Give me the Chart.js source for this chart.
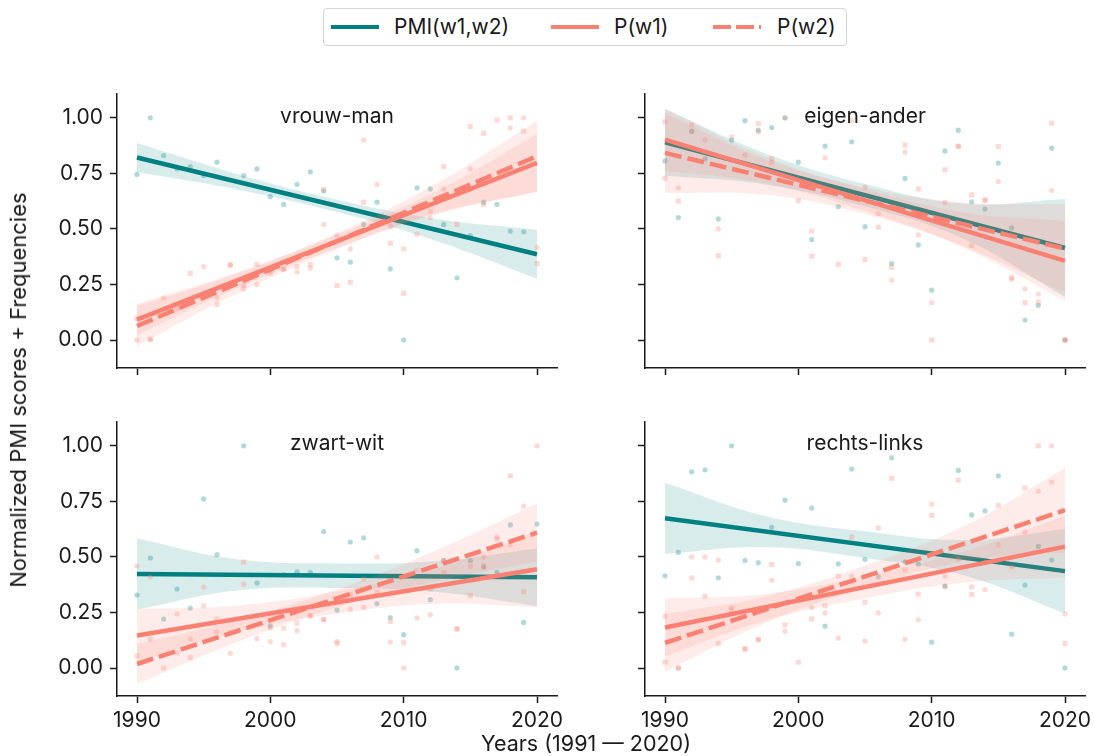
<!DOCTYPE html>
<html>
<head>
<meta charset="utf-8">
<script src="https://cdn.jsdelivr.net/npm/chart.js@4.4.1/dist/chart.umd.min.js"></script>
<style>
  body { margin: 0; width: 1094px; height: 756px; background: #fff; position: relative; overflow: hidden;
         font-family: Inter, "Liberation Sans", sans-serif; color: #1a1a1a; }
  canvas { position: absolute; }
  .ttl { position: absolute; font-size: 21px; line-height: 1; transform: translateX(-50%); white-space: nowrap; }
  .lab { position: absolute; line-height: 1; white-space: nowrap; }
  #legend { position: absolute; left: 323px; top: 8px; width: 522px; height: 36px; border: 1px solid #d4d4d4; border-radius: 4px; }
  #legend .sw { position: absolute; top: 16px; width: 48px; height: 4px; }
  #legend .tx { position: absolute; top: 7px; font-size: 21px; line-height: 1; white-space: nowrap; }
</style>
</head>
<body>
<div id="legend">
  <div class="sw" style="left:7px;background:#008080"></div><div class="tx" style="left:70px">PMI(w1,w2)</div>
  <div class="sw" style="left:227px;background:#fa8072"></div><div class="tx" style="left:290px">P(w1)</div>
  <div class="sw" style="left:389px;background:repeating-linear-gradient(to right,#fa8072 0 18px,transparent 18px 23px)"></div><div class="tx" style="left:453px">P(w2)</div>
</div>
<canvas id="c0"></canvas><canvas id="c1"></canvas><canvas id="c2"></canvas><canvas id="c3"></canvas>
<div class="ttl" style="left:337px;top:105px">vrouw-man</div>
<div class="ttl" style="left:865px;top:105px">eigen-ander</div>
<div class="ttl" style="left:337px;top:432px">zwart-wit</div>
<div class="ttl" style="left:865px;top:432px">rechts-links</div>
<div class="lab" style="left:586px;top:733px;font-size:21.5px;transform:translateX(-50%)">Years (1991 — 2020)</div>
<div class="lab" style="left:18px;top:390px;font-size:22px;transform:translate(-50%,-50%) rotate(-90deg)">Normalized PMI scores + Frequencies</div>
<script>
const years = [1990, 1991, 1992, 1993, 1994, 1995, 1996, 1997, 1998, 1999, 2000, 2001, 2002, 2003, 2004, 2005,
               2006, 2007, 2008, 2009, 2010, 2011, 2012, 2013, 2014, 2015, 2016, 2017, 2018, 2019, 2020];
const xTicks = [1990, 2000, 2010, 2020];
const yTicks = [0, 0.25, 0.5, 0.75, 1];
const bandYears = [1990, 1997.5, 2005, 2012.5, 2020];
const seriesNames = ['PMI(w1,w2)', 'P(w1)', 'P(w2)'];

// vrouw-man
const vrouwManPmi = [0.745, 1.00, 0.83, 0.77, 0.78, 0.74, 0.80, null, 0.74, 0.77, 0.645, 0.61, 0.70, 0.757, 0.67, 0.37,
                     0.35, 0.52, 0.62, 0.32, 0.00, 0.685, 0.68, 0.52, 0.28, 0.47, 0.62, 0.61, 0.49, 0.487, null];
const vrouwManW1 = [0.00, 0.00, 0.19, 0.14, null, 0.33, 0.19, 0.336, 0.246, 0.25, 0.31, 0.317, 0.306, 0.324, 0.52, 0.47,
                    0.41, 0.90, 0.70, 0.51, 0.41, 0.476, 0.55, 0.68, null, 0.77, 0.61, null, 0.955, 1.00, 0.417];
const vrouwManW2 = [0.096, 0.005, null, null, 0.30, 0.19, 0.16, 0.34, 0.23, 0.34, 0.30, 0.32, 0.33, 0.34, 0.677, 0.245,
                    0.26, 0.62, 0.52, 0.435, 0.21, 0.59, 0.58, 0.78, 0.52, 0.96, 0.93, 0.99, 1.00, 0.94, 0.344];
const vrouwManFit = [[0.821, 0.386], [0.092, 0.797], [0.063, 0.827]];
const vrouwManBand = [[0.065, 0.035, 0.028, 0.05, 0.11], [0.07, 0.035, 0.03, 0.05, 0.13], [0.09, 0.045, 0.035, 0.07, 0.16]];

// eigen-ander
const eigenAnderPmi = [0.806, 0.551, 0.94, 0.815, 0.545, 0.90, 0.987, 0.944, 0.956, 1.00, 0.80, 0.452, 0.872, 0.60, 0.892, 0.51,
                       null, 0.344, 0.727, 0.428, 0.224, 0.851, 0.944, 0.622, 0.589, 0.796, 0.505, 0.09, 0.156, 0.863, 0.00];
const eigenAnderW1 = [0.728, 0.685, 0.937, 0.90, 0.50, 0.914, 0.833, 0.937, 0.817, 1.00, null, 0.49, 0.82, null, null, 0.688,
                      0.569, 0.269, 0.845, 0.473, 0.168, 0.619, 0.871, 0.425, 0.63, 0.713, 0.273, 0.23, 0.207, 0.673, 0.00];
const eigenAnderW2 = [0.982, 0.625, 0.968, null, 0.38, null, null, 0.974, 0.80, null, 0.627, 0.377, null, 0.34, 0.987, 0.362,
                      0.507, 0.327, 0.878, 0.68, 0.00, 0.766, 0.872, 0.653, 0.629, 0.871, 0.282, 0.167, 0.171, 0.976, 0.00];
const eigenAnderFit = [[0.889, 0.414], [0.902, 0.356], [0.842, 0.411]];
const eigenAnderBand = [[0.15, 0.07, 0.05, 0.08, 0.22], [0.14, 0.06, 0.05, 0.08, 0.18], [0.18, 0.08, 0.06, 0.1, 0.2]];

// zwart-wit
const zwartWitPmi = [0.328, 0.495, 0.22, 0.355, 0.27, 0.761, 0.51, null, 1.00, 0.383, 0.19, 0.42, 0.433, 0.43, 0.614, 0.26,
                     0.567, 0.586, 0.29, 0.227, 0.15, 0.528, 0.308, 0.483, 0.00, 0.484, 0.454, 0.43, 0.644, 0.205, 0.648];
const zwartWitW1 = [0.459, 0.41, null, 0.244, 0.13, 0.365, 0.162, 0.066, 0.377, 0.132, 0.119, 0.105, 0.168, 0.235, 0.218, 0.119,
                    0.265, 0.272, 0.50, 0.117, 0.00, 0.226, 0.24, 0.43, 0.176, 0.457, 0.50, 0.59, 0.555, 0.728, 1.00];
const zwartWitW2 = [0.054, 0.13, 0.00, 0.068, 0.047, 0.28, 0.22, 0.16, 0.477, 0.236, 0.182, 0.179, 0.203, 0.235, 0.217, 0.11,
                    0.33, 0.40, 0.34, 0.209, 0.114, 0.44, 0.356, 0.483, 0.176, 0.326, 0.459, 0.58, 0.865, 0.343, null];
const zwartWitFit = [[0.423, 0.408], [0.146, 0.444], [0.018, 0.609]];
const zwartWitBand = [[0.16, 0.07, 0.055, 0.07, 0.13], [0.12, 0.06, 0.05, 0.08, 0.17], [0.09, 0.05, 0.04, 0.07, 0.13]];

// rechts-links
const rechtsLinksPmi = [0.415, 0.52, 0.883, 0.892, 0.406, 1.00, 0.484, 0.474, 0.633, 0.755, 0.47, 0.72, 0.188, 0.469, 0.895, 0.489,
                        0.41, 0.946, 0.478, 0.468, 0.116, 0.368, 0.889, 0.689, 0.707, 0.865, 0.152, 0.373, 0.547, 0.486, 0.00];
const rechtsLinksW1 = [0.233, 0.00, 0.50, 0.50, 0.486, 0.272, 0.086, 0.128, 0.395, 0.165, null, 0.272, 0.248, 0.134, 0.414, 0.122,
                       0.248, null, 0.129, 0.217, 0.737, 0.414, 0.492, 0.365, 0.353, 0.553, 0.454, 0.612, 0.795, 1.00, 0.244];
const rechtsLinksW2 = [0.026, 0.00, 0.405, 0.323, 0.11, 0.262, 0.086, 0.128, 0.466, 0.194, 0.026, 0.221, 0.28, 0.414, 0.589, 0.296,
                       0.63, 0.854, 0.442, 0.332, 0.687, 0.368, 0.845, 0.331, 0.474, 0.732, null, 0.81, 1.00, 0.836, 0.11];
const rechtsLinksFit = [[0.674, 0.436], [0.182, 0.546], [0.113, 0.71]];
const rechtsLinksBand = [[0.16, 0.07, 0.06, 0.08, 0.19], [0.13, 0.06, 0.05, 0.07, 0.14], [0.13, 0.06, 0.05, 0.08, 0.19]];

const rgb = ['0,128,128', '250,128,114', '250,128,114'];
const ink = '#1a1a1a';

Chart.defaults.font.family = 'Inter, "Liberation Sans", sans-serif';
Chart.defaults.color = ink;

function buildDatasets(series, fit, band) {
  const ds = [];
  series.forEach((vals, k) => {
    const a = fit[k][0], b = fit[k][1];
    const lineAt = x => a + (b - a) * (x - 1990) / 30;
    const edge = { type: 'line', borderWidth: 0, pointRadius: 0, tension: 0.4, label: seriesNames[k] };
    ds.push(Object.assign({}, edge, { data: bandYears.map((x, i) => ({ x, y: lineAt(x) + band[k][i] })),
      fill: '+1', backgroundColor: 'rgba(' + rgb[k] + ',0.15)' }));
    ds.push(Object.assign({}, edge, { data: bandYears.map((x, i) => ({ x, y: lineAt(x) - band[k][i] })), fill: false }));
    ds.push({ type: 'scatter', label: seriesNames[k],
      data: years.map((x, i) => ({ x, y: vals[i] })).filter(d => d.y !== null),
      pointStyle: k === 2 ? 'rect' : 'circle', pointRadius: k === 2 ? 3.6 : 2.6, pointBorderWidth: 0,
      backgroundColor: 'rgba(' + rgb[k] + ',0.3)' });
    ds.push({ type: 'line', label: seriesNames[k], data: [{ x: 1990, y: a }, { x: 2020, y: b }],
      borderColor: 'rgb(' + rgb[k] + ')', borderWidth: 4.5, pointRadius: 0, fill: false,
      borderDash: k === 2 ? [17, 6] : [] });
  });
  ds.forEach((d, i) => { d.order = -i; });
  return ds;
}

function makePanel(id, left, top, series, fit, band, showX, showY) {
  const w = 440, h = 274, mL = 100, mT = 20, mR = 30, mB = 50;
  const cv = document.getElementById(id);
  cv.width = w + mL + mR; cv.height = h + mT + mB;
  cv.style.left = (left - mL) + 'px'; cv.style.top = (top - mT) + 'px';
  const axisGrid = { drawOnChartArea: false, drawTicks: true, tickLength: 7, tickWidth: 1.5, tickColor: ink };
  new Chart(cv, {
    type: 'scatter',
    data: { datasets: buildDatasets(series, fit, band) },
    options: {
      responsive: false, animation: false, events: [],
      layout: { padding: { left: mL - 70, top: mT, right: mR, bottom: mB - 40 } },
      plugins: { legend: { display: false }, tooltip: { enabled: false } },
      scales: {
        x: { type: 'linear', min: 1988.5, max: 2021.5,
             afterBuildTicks: s => { s.ticks = xTicks.map(v => ({ value: v })); },
             afterFit: s => { s.height = 40; },
             grid: axisGrid, border: { color: ink, width: 1.5 },
             ticks: { padding: 5, font: { size: 21 }, callback: v => showX ? String(v) : '' } },
        y: { type: 'linear', min: -0.126, max: 1.107,
             afterBuildTicks: s => { s.ticks = yTicks.map(v => ({ value: v })); },
             afterFit: s => { s.width = 70; },
             grid: axisGrid, border: { color: ink, width: 1.5 },
             ticks: { padding: 7, font: { size: 21 }, callback: v => showY ? v.toFixed(2) : '' } }
      }
    }
  });
}

makePanel('c0', 117, 94, [vrouwManPmi, vrouwManW1, vrouwManW2], vrouwManFit, vrouwManBand, false, true);
makePanel('c1', 645, 94, [eigenAnderPmi, eigenAnderW1, eigenAnderW2], eigenAnderFit, eigenAnderBand, false, false);
makePanel('c2', 117, 422, [zwartWitPmi, zwartWitW1, zwartWitW2], zwartWitFit, zwartWitBand, true, true);
makePanel('c3', 645, 422, [rechtsLinksPmi, rechtsLinksW1, rechtsLinksW2], rechtsLinksFit, rechtsLinksBand, true, false);
</script>
</body>
</html>
